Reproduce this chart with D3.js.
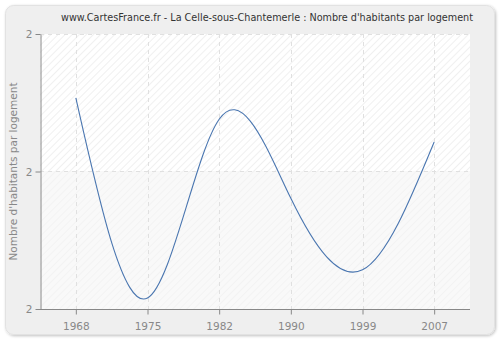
<!DOCTYPE html>
<html>
<head>
<meta charset="utf-8">
<script src="https://cdn.jsdelivr.net/npm/d3@7"></script>
<style>
  html, body { margin: 0; padding: 0; background: #ffffff; }
  svg { display: block; font-family: "DejaVu Sans", Verdana, sans-serif; }
</style>
</head>
<body>
<svg id="chart" width="500" height="340"></svg>
<script>
// Census years and average number of inhabitants per dwelling
const years = ["1968", "1975", "1982", "1990", "1999", "2007"];
const inhabitantsPerDwelling = [2.307, 2.016, 2.276, 2.161, 2.057, 2.243];
const yTicks = [2.0, 2.2, 2.4];

const titleText = "www.CartesFrance.fr - La Celle-sous-Chantemerle : Nombre d'habitants par logement";
const yAxisTitle = "Nombre d'habitants par logement";

const svg = d3.select("#chart");
const plot = { left: 40, right: 470, top: 34, bottom: 309 };

const defs = svg.append("defs");

// soft drop shadow under the panel
const shadow = defs.append("filter").attr("id", "panelShadow")
  .attr("x", "-5%").attr("y", "-5%").attr("width", "110%").attr("height", "110%");
shadow.append("feGaussianBlur").attr("in", "SourceAlpha").attr("stdDeviation", 1.5).attr("result", "b");
shadow.append("feOffset").attr("in", "b").attr("dx", 1).attr("dy", 1).attr("result", "o");
shadow.append("feComponentTransfer").attr("in", "o").attr("result", "s")
  .append("feFuncA").attr("type", "linear").attr("slope", 0.25);
const merge = shadow.append("feMerge");
merge.append("feMergeNode").attr("in", "s");
merge.append("feMergeNode").attr("in", "SourceGraphic");

// diagonal hatching for the plot background
function hatch(id, bg, line) {
  const p = defs.append("pattern").attr("id", id)
    .attr("patternUnits", "userSpaceOnUse").attr("width", 5).attr("height", 5)
    .attr("patternTransform", "rotate(45)");
  p.append("rect").attr("width", 5).attr("height", 5).attr("fill", bg);
  p.append("line").attr("x1", 0).attr("y1", 0).attr("x2", 0).attr("y2", 5)
    .attr("stroke", line).attr("stroke-width", 1.2);
}
hatch("hatchTop", "#ffffff", "#e6e6e6");
hatch("hatchBottom", "#f9f9f9", "#f0f0f0");

// outer panel
svg.append("rect")
  .attr("x", 5.5).attr("y", 5.5).attr("width", 489).attr("height", 329)
  .attr("rx", 8).attr("ry", 8)
  .attr("fill", "#efefef").attr("stroke", "#e2e2e2").attr("stroke-width", 1)
  .attr("filter", "url(#panelShadow)");

const x = d3.scalePoint().domain(years).range([plot.left, plot.right]).padding(0.5);
const y = d3.scaleLinear().domain([yTicks[0], yTicks[yTicks.length - 1]]).range([plot.bottom, plot.top]);

// plot background: two hatched bands
const mid = y(yTicks[1]);
svg.append("rect").attr("x", plot.left).attr("y", plot.top)
  .attr("width", plot.right - plot.left).attr("height", mid - plot.top)
  .attr("fill", "url(#hatchTop)");
svg.append("rect").attr("x", plot.left).attr("y", mid)
  .attr("width", plot.right - plot.left).attr("height", plot.bottom - mid)
  .attr("fill", "url(#hatchBottom)");

// grid lines
const grid = svg.append("g").attr("stroke", "#e0e0e0").attr("stroke-dasharray", "4,4").attr("stroke-width", 1);
grid.selectAll("line.v").data(years).join("line").attr("class", "v")
  .attr("x1", d => Math.round(x(d)) + 0.5).attr("x2", d => Math.round(x(d)) + 0.5)
  .attr("y1", plot.top).attr("y2", plot.bottom);
grid.selectAll("line.h").data(yTicks.slice(1)).join("line").attr("class", "h")
  .attr("x1", plot.left).attr("x2", plot.right)
  .attr("y1", d => Math.round(y(d)) + 0.5).attr("y2", d => Math.round(y(d)) + 0.5);

// data line
const line = d3.line()
  .x((d, i) => x(years[i]))
  .y(d => y(d))
  .curve(d3.curveNatural);
svg.append("path").datum(inhabitantsPerDwelling)
  .attr("d", line)
  .attr("fill", "none").attr("stroke", "#4a76b0").attr("stroke-width", 1.1);

// axes
const fmt = d3.format(".0f");
const xAxis = svg.append("g").attr("transform", `translate(0,${plot.bottom + 0.5})`)
  .call(d3.axisBottom(x).tickSize(5).tickSizeOuter(0));
const yAxis = svg.append("g").attr("transform", `translate(${plot.left + 0.5},0)`)
  .call(d3.axisLeft(y).tickValues(yTicks).tickFormat(fmt).tickSize(5).tickSizeOuter(0));

[xAxis, yAxis].forEach(g => {
  g.select(".domain").attr("stroke", "#888888").attr("stroke-width", 1);
  g.selectAll(".tick line").attr("stroke", "#888888");
  g.selectAll(".tick text").attr("fill", "#888888").attr("font-size", 10.5)
    .attr("font-family", "\"DejaVu Sans\", Verdana, sans-serif");
});
xAxis.select(".domain").attr("d", `M${plot.left},0H${plot.right}`);
xAxis.selectAll(".tick text").attr("dy", "1.2em");
yAxis.selectAll(".tick text").attr("x", -8).attr("dy", "0.35em");

// titles
svg.append("text").attr("x", 267).attr("y", 21)
  .attr("text-anchor", "middle").attr("font-size", 10).attr("fill", "#333333")
  .attr("textLength", 412).attr("lengthAdjust", "spacingAndGlyphs")
  .text(titleText);
svg.append("text")
  .attr("transform", `translate(17,${(plot.top + plot.bottom) / 2}) rotate(-90)`)
  .attr("text-anchor", "middle").attr("font-size", 10.5).attr("fill", "#888888")
  .text(yAxisTitle);
</script>
</body>
</html>
